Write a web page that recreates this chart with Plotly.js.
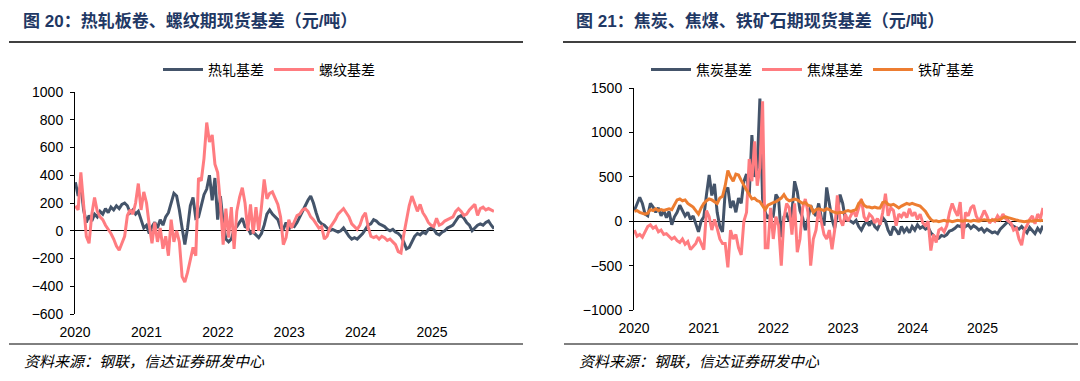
<!DOCTYPE html>
<html><head><meta charset="utf-8">
<script src="https://cdn.plot.ly/plotly-3.0.1.min.js"></script>
<style>html,body{margin:0;padding:0;background:#fff;}#chart{width:1080px;height:381px;}</style>
</head><body><div id="chart"></div>
<script>
// biweekly samples
const startDate = '2020-01-03';
const stepDays = 14;
const yearTicks = ['2020-01-01','2021-01-01','2022-01-01','2023-01-01','2024-01-01','2025-01-01'];
const yearLabels = ['2020','2021','2022','2023','2024','2025'];

const hrcBasis = [350,250,330,150,60,110,70,120,100,140,
120,160,130,170,150,180,160,190,200,180,
130,150,120,140,80,20,40,-20,30,60,
20,80,40,100,130,200,270,250,150,20,
-100,20,180,240,90,100,180,260,300,400,
220,380,80,250,60,-60,-80,-60,10,30,
60,90,30,20,-20,-10,-30,-50,-20,40,
120,150,120,100,80,20,10,60,10,40,
30,60,100,150,180,220,250,200,130,70,
50,40,20,0,10,0,-10,0,20,-10,
-40,-60,-50,-60,-40,-20,10,40,50,80,
70,50,40,30,10,0,10,-10,-20,-40,
-80,-130,-120,-80,-40,-20,-30,-10,-20,10,
20,10,-20,-30,-10,0,20,30,40,70,
100,110,90,60,40,0,20,40,50,40,
60,70,40,15];

const rebarBasis = [180,150,420,200,-40,-90,120,240,140,100,
80,40,10,-20,-60,-110,-140,-90,-40,110,
150,120,200,340,150,280,200,40,-90,60,
-80,20,-130,-40,-180,80,-80,0,-80,-330,
-370,-300,-200,-120,-180,380,360,520,780,640,
690,480,420,200,-100,160,-50,170,-130,140,
240,310,200,0,190,-20,170,0,170,370,
230,270,280,240,190,100,-100,-50,80,20,
60,110,120,150,160,140,100,80,50,20,
30,-60,-40,20,50,80,120,140,160,130,
100,50,30,10,40,100,130,30,-40,-50,
-40,-60,-40,-50,-70,-60,-80,-100,-150,-160,
-30,80,180,250,200,140,190,130,100,60,
40,30,90,40,50,70,80,90,100,140,
160,140,110,120,150,170,190,110,160,170,
150,160,150,140];

const cokeBasis = [120,200,270,200,80,60,200,160,100,150,
60,120,40,110,-40,50,100,180,120,60,
100,20,60,-20,-120,0,50,300,520,290,
420,100,-60,-120,330,380,150,230,100,260,
200,450,530,290,970,500,600,1380,250,100,
30,80,60,300,250,-180,50,80,0,100,
450,330,120,40,-100,20,180,100,60,200,
40,-50,380,200,20,-80,80,300,200,20,
20,0,-20,10,-60,-100,-40,0,-50,10,
-60,-90,-30,40,0,-100,-160,-60,-100,-150,
-60,-120,-80,-130,-60,-100,-40,-80,-60,-90,
-70,-130,-160,-200,-190,-160,-170,-150,-110,-100,
-80,-50,-60,-30,-60,-40,-80,-50,-70,-100,
-80,-120,-90,-110,-130,-120,-140,-90,-60,-20,
0,-40,-60,-80,-90,-60,-100,-130,-70,-110,
-140,-80,-120,-50];

const cokingCoalBasis = [-100,-170,-150,-180,-120,-60,-40,-80,-60,-120,
-100,-150,-140,-170,-200,-180,-220,-240,-200,-260,
-230,-320,-280,-250,-180,-250,-320,120,50,-100,
20,-80,-200,-250,-250,-520,-100,-200,-150,-300,
-380,0,100,700,450,900,400,600,1350,-300,
-300,150,-200,50,-50,-500,30,200,150,-150,
200,-350,-200,150,250,100,-500,-200,-100,140,
0,-150,-200,-100,-315,-100,290,20,-50,80,
0,60,120,50,150,250,50,0,80,50,
-20,30,-40,100,310,60,150,120,-50,80,
50,100,40,140,60,100,20,80,-20,-50,
0,-330,-150,-240,-100,-80,-120,-50,100,200,
120,60,215,-200,100,60,150,180,60,0,
50,120,60,-20,20,0,60,20,80,30,
0,-20,-100,-80,-200,-270,-100,-50,20,60,
-30,80,30,150];

const ironOreBasis = [110,120,100,90,80,90,130,120,140,120,
130,120,130,140,130,180,240,250,230,240,
200,180,160,120,80,150,200,230,250,240,
220,200,260,280,400,570,500,450,530,520,
460,400,350,300,250,260,230,220,170,130,
180,200,210,220,240,260,300,250,230,240,
250,240,220,200,210,180,170,100,130,140,
130,120,140,130,110,100,90,100,95,110,
120,110,120,130,200,230,180,160,160,150,
160,150,150,210,220,190,180,190,170,150,
170,190,200,190,200,190,180,170,140,110,
60,20,0,5,-5,0,10,0,5,-5,
0,10,5,0,10,5,0,10,5,0,
10,15,10,5,10,15,10,20,40,50,
40,30,25,10,5,0,-5,0,5,0,
5,10,5,10];

const W = 1080, H = 381;
const fx = v => v / W, fy = v => 1 - v / H;
const NAVY = '#44546A', PINK = '#FF7C80', ORANGE = '#ED7D31';
const dx = stepDays * 86400000;
const NUM = 'Liberation Sans, Arial, sans-serif';
const CJK = 'Liberation Sans, Noto Sans CJK SC, sans-serif';

function series(y, name, color, xa, ya, lg) {
  return {type:'scatter', mode:'lines', x0:startDate, dx:dx, y:y, name:name,
    line:{color:color, width:3}, xaxis:xa, yaxis:ya, legend:lg, hoverinfo:'skip'};
}
const data = [
  series(hrcBasis, '热轧基差', NAVY, 'x', 'y', 'legend'),
  series(rebarBasis, '螺纹基差', PINK, 'x', 'y', 'legend'),
  series(cokeBasis, '焦炭基差', NAVY, 'x2', 'y2', 'legend2'),
  series(cokingCoalBasis, '焦煤基差', PINK, 'x2', 'y2', 'legend2'),
  series(ironOreBasis, '铁矿基差', ORANGE, 'x2', 'y2', 'legend2')
];
const endDate = '2025-11-14';
function xax(d, anchor) {
  return {domain:d, anchor:anchor, type:'date', range:['2020-01-01', endDate],
    tickmode:'array', tickvals:yearTicks, ticktext:yearLabels,
    showgrid:false, zeroline:false, showline:false, ticks:'',
    tickfont:{family:NUM, size:14, color:'#000'}, ticklabelstandoff:8, fixedrange:true};
}
function yax(d, anchor, r, dt) {
  return {domain:d, anchor:anchor, range:r, dtick:dt, tick0:0,
    showline:true, linecolor:'#000', linewidth:1, ticks:'outside', ticklen:4,
    tickcolor:'#000', tickwidth:1, showgrid:false, zeroline:true,
    zerolinecolor:'#000', zerolinewidth:1.3, ticklabelstandoff:4,
    tickfont:{family:NUM, size:14, color:'#000'}, fixedrange:true};
}
const legFont = {family:CJK, size:14, color:'#000'};
const layout = {
  width:W, height:H, margin:{l:0, r:0, t:0, b:0},
  paper_bgcolor:'#fff', plot_bgcolor:'rgba(0,0,0,0)', showlegend:true,
  xaxis: xax([fx(75), fx(494)], 'y'),
  yaxis: yax([fy(314), fy(92)], 'x', [-600, 1000], 200),
  xaxis2: xax([fx(634), fx(1043)], 'y2'),
  yaxis2: yax([fy(310), fy(88)], 'x2', [-1000, 1500], 500),
  legend: {orientation:'h', x:fx(158), y:fy(70), xanchor:'left', yanchor:'middle',
    font:legFont, itemwidth:40, bgcolor:'rgba(0,0,0,0)', traceorder:'normal'},
  legend2: {orientation:'h', x:fx(646), y:fy(70), xanchor:'left', yanchor:'middle',
    font:legFont, itemwidth:40, bgcolor:'rgba(0,0,0,0)', traceorder:'normal'},
  shapes: [
    {type:'line', xref:'paper', yref:'paper', x0:fx(9), x1:fx(523), y0:fy(42), y1:fy(42), line:{color:'#000', width:1.5}},
    {type:'line', xref:'paper', yref:'paper', x0:fx(563), x1:fx(1076), y0:fy(42), y1:fy(42), line:{color:'#000', width:1.5}},
    {type:'line', xref:'paper', yref:'paper', x0:fx(9), x1:fx(523), y0:fy(344), y1:fy(344), line:{color:'#000', width:1}},
    {type:'line', xref:'paper', yref:'paper', x0:fx(564), x1:fx(1078), y0:fy(344), y1:fy(344), line:{color:'#000', width:1}}
  ],
  annotations: [
    {xref:'paper', yref:'paper', x:fx(21), y:fy(21), xanchor:'left', yanchor:'middle', showarrow:false,
      text:'<b>图 20：热轧板卷、螺纹期现货基差（元/吨）</b>', font:{family:CJK, size:17, color:'#1F3864'}},
    {xref:'paper', yref:'paper', x:fx(574), y:fy(21), xanchor:'left', yanchor:'middle', showarrow:false,
      text:'<b>图 21：焦炭、焦煤、铁矿石期现货基差（元/吨）</b>', font:{family:CJK, size:17, color:'#1F3864'}},
    {xref:'paper', yref:'paper', x:fx(22), y:fy(361), xanchor:'left', yanchor:'middle', showarrow:false,
      text:'<i>资料来源：钢联，信达证券研发中心</i>', font:{family:CJK, size:15, color:'#000'}},
    {xref:'paper', yref:'paper', x:fx(577), y:fy(361), xanchor:'left', yanchor:'middle', showarrow:false,
      text:'<i>资料来源：钢联，信达证券研发中心</i>', font:{family:CJK, size:15, color:'#000'}}
  ]
};
Plotly.newPlot('chart', data, layout, {staticPlot:true, displayModeBar:false});
</script></body></html>
